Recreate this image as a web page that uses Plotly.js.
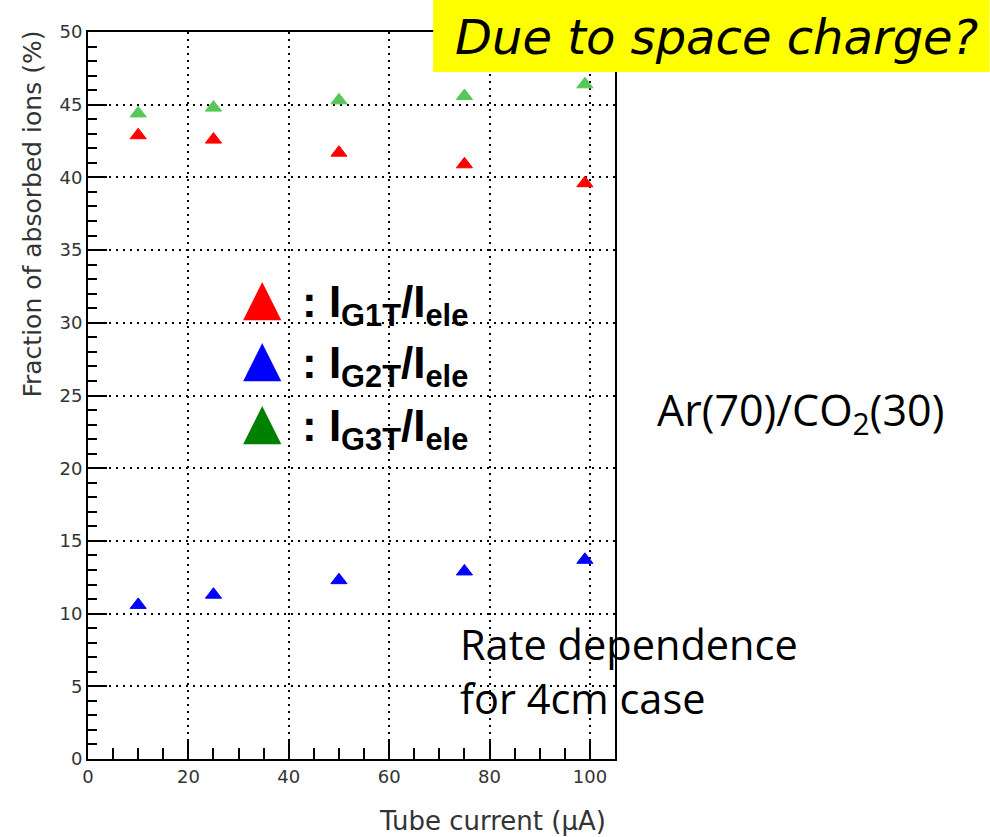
<!DOCTYPE html>
<html>
<head>
<meta charset="utf-8">
<script src="https://cdn.plot.ly/plotly-3.0.1.min.js"></script>
<style>html,body{margin:0;padding:0;background:#fff;}#chart{width:990px;height:837px;}</style>
</head>
<body>
<div id="chart"></div>
<script>
// ---- data ----
const current = [10, 25, 50, 75, 99];          // Tube current (uA)
const fracG1T = [42.9, 42.6, 41.7, 40.9, 39.6]; // I_G1T / I_ele (%)
const fracG2T = [10.6, 11.3, 12.3, 12.9, 13.7]; // I_G2T / I_ele (%)
const fracG3T = [44.4, 44.8, 45.3, 45.6, 46.4]; // I_G3T / I_ele (%)
const xTickStep = 20, xMinorStep = 5;
const yTickStep = 5, yMinorStep = 1;
const legendLabels = [
  "<b>: I<sub>G1T</sub>/I<sub>ele</sub></b>",
  "<b>: I<sub>G2T</sub>/I<sub>ele</sub></b>",
  "<b>: I<sub>G3T</sub>/I<sub>ele</sub></b>"
];
const legendColors = ["#ff0000", "#0000ff", "#008000"];
const xTitle = "Tube current (\u03bcA)";
const yTitle = "Fraction of absorbed ions (%)";
const noteTop = "Due to space charge?";
const noteGas = "Ar(70)/CO<sub>2</sub>(30)";
const noteRate = "Rate dependence<br>for 4cm case";

// ---- layout helpers (pixel -> paper) ----
const L = 87.5, R = 615, T = 32, B = 759;
const px = p => (p - L) / (R - L);
const py = p => (B - p) / (B - T);

const mk = (color) => ({symbol: "triangle-up", size: 14, color: color, line: {width: 1, color: color}});
const traces = [
  {x: current, y: fracG1T, type: "scatter", mode: "markers", marker: mk("#ff0000"), showlegend: false},
  {x: current, y: fracG2T, type: "scatter", mode: "markers", marker: mk("#0000ff"), showlegend: false},
  {x: current, y: fracG3T, type: "scatter", mode: "markers", marker: mk("#55c855"), showlegend: false}
];

const annotations = [];
const rowY = [297, 358, 421];
legendLabels.forEach((lab, i) => {
  annotations.push({xref: "paper", yref: "paper", x: px(262), y: py(rowY[i]), xanchor: "center", yanchor: "middle",
    text: "\u25b2", showarrow: false, font: {family: "DejaVu Sans", size: 50, color: legendColors[i]}});
  annotations.push({xref: "paper", yref: "paper", x: px(300), y: py(rowY[i] + 8), xanchor: "left", yanchor: "middle",
    text: lab, showarrow: false, font: {family: "Liberation Sans", size: 44, color: "#000"}});
});
annotations.push({xref: "paper", yref: "paper", x: px(453), y: py(37), xanchor: "left", yanchor: "middle",
  text: noteTop, showarrow: false, font: {family: "DejaVu Sans", size: 48, style: "italic", color: "#000"}});
annotations.push({xref: "paper", yref: "paper", x: px(655), y: py(412), xanchor: "left", yanchor: "middle",
  text: noteGas, showarrow: false, font: {family: "Open Sans", size: 43, color: "#000"}});
annotations.push({xref: "paper", yref: "paper", x: px(458), y: py(671), xanchor: "left", yanchor: "middle", align: "left",
  text: noteRate, showarrow: false, font: {family: "Open Sans", size: 41.5, color: "#000"}});
annotations.push({xref: "paper", yref: "paper", x: px(31), y: py(214), xanchor: "center", yanchor: "middle",
  textangle: -90, text: yTitle, showarrow: false, font: {family: "DejaVu Sans", size: 25, color: "#333"}});
annotations.push({xref: "paper", yref: "paper", x: px(492), y: py(821), xanchor: "center", yanchor: "middle",
  text: xTitle, showarrow: false, font: {family: "DejaVu Sans", size: 26, color: "#333"}});

const layout = {
  width: 990, height: 837,
  margin: {l: L, r: 990 - R, t: T, b: 837 - B, pad: 0},
  paper_bgcolor: "#fff", plot_bgcolor: "#fff",
  showlegend: false,
  xaxis: {
    range: [0, 105], tick0: 0, dtick: xTickStep,
    ticks: "inside", ticklen: 20, tickwidth: 2, tickcolor: "#000",
    minor: {ticks: "inside", ticklen: 11, tickwidth: 2, tickcolor: "#000", dtick: xMinorStep, showgrid: false},
    showline: true, linecolor: "#000", linewidth: 2, mirror: true,
    showgrid: true, gridcolor: "#000", gridwidth: 2, griddash: "2px,5px",
    zeroline: false, tickfont: {family: "DejaVu Sans", size: 18, color: "#333"}
  },
  yaxis: {
    range: [0, 50], tick0: 0, dtick: yTickStep,
    ticks: "inside", ticklen: 19, tickwidth: 2, tickcolor: "#000",
    minor: {ticks: "inside", ticklen: 9, tickwidth: 2, tickcolor: "#000", dtick: yMinorStep, showgrid: false},
    showline: true, linecolor: "#000", linewidth: 2, mirror: true,
    showgrid: true, gridcolor: "#000", gridwidth: 2, griddash: "2px,5px",
    zeroline: false, tickfont: {family: "DejaVu Sans", size: 18, color: "#333"}
  },
  shapes: [
    {type: "rect", xref: "paper", yref: "paper", x0: px(433), x1: px(990), y0: py(72), y1: py(0),
     fillcolor: "#ffff00", line: {width: 0}, layer: "above"}
  ],
  annotations: annotations
};

Plotly.newPlot("chart", traces, layout, {displayModeBar: false, staticPlot: true});
</script>
</body>
</html>
